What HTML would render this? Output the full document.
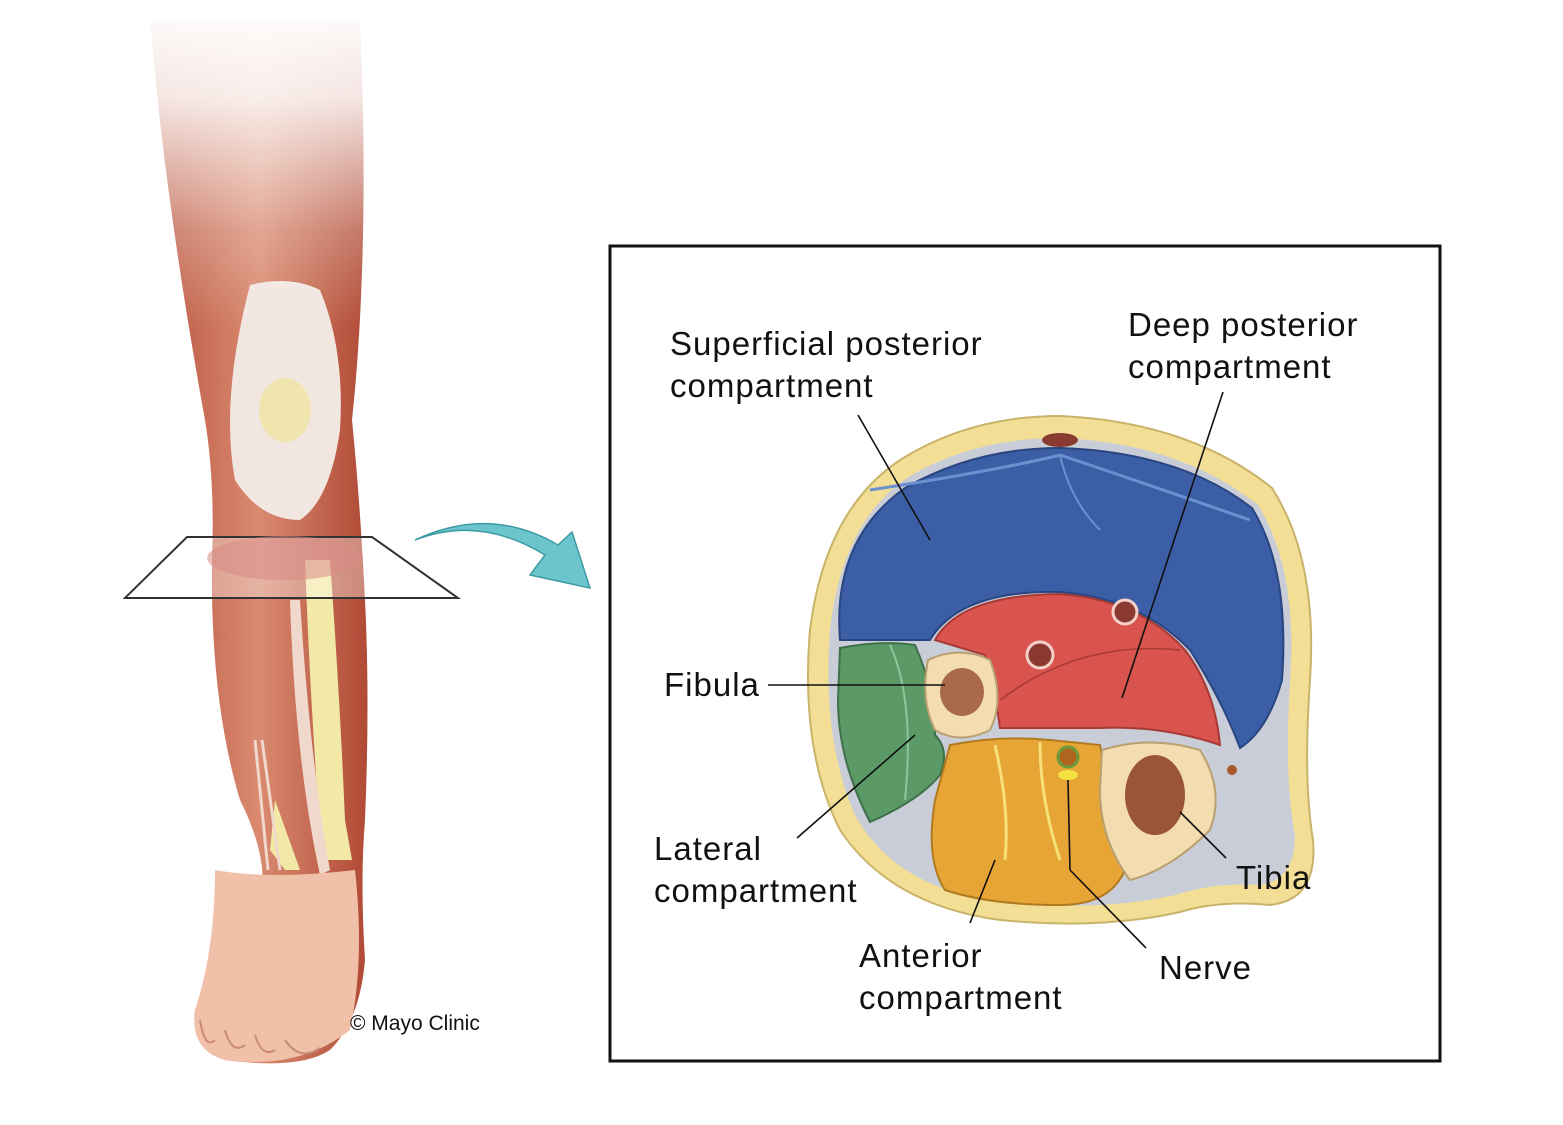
<!DOCTYPE html>
<html><head><meta charset="utf-8"><style>
html,body{margin:0;padding:0;background:#fff;}
svg{display:block;}
text{font-family:"Liberation Sans",Arial,sans-serif;fill:#111;}
</style></head><body>
<svg width="1563" height="1125" viewBox="0 0 1563 1125" xmlns="http://www.w3.org/2000/svg">
<defs>
<linearGradient id="fade" x1="0" y1="0" x2="0" y2="1">
<stop offset="0" stop-color="#fff" stop-opacity="1"/>
<stop offset="0.3" stop-color="#fff" stop-opacity="0.85"/>
<stop offset="0.7" stop-color="#fff" stop-opacity="0.25"/>
<stop offset="1" stop-color="#fff" stop-opacity="0"/>
</linearGradient>
<linearGradient id="mus" x1="0" y1="0" x2="1" y2="0">
<stop offset="0" stop-color="#b8543e"/><stop offset="0.5" stop-color="#d98a70"/><stop offset="1" stop-color="#b04a35"/>
</linearGradient>
</defs>

<!-- LEG -->
<g>
<path d="M150,20 Q165,200 205,420 Q215,480 212,560 Q210,700 240,800 Q270,860 260,900 Q220,960 195,1010 Q190,1050 225,1060 Q300,1070 330,1050 Q360,1020 365,960 Q360,880 365,820 Q370,700 365,600 Q360,500 352,420 Q370,250 360,20 Z" fill="url(#mus)"/>
<path d="M250,285 Q290,275 320,290 Q345,350 340,430 Q330,500 300,520 Q260,520 235,480 Q220,400 250,285 Z" fill="#f1e6e0"/>
<ellipse cx="285" cy="410" rx="26" ry="32" fill="#f1e49a" opacity="0.7"/>
<path d="M305,560 L330,560 Q340,700 345,820 L352,860 L322,860 Q310,700 305,560 Z" fill="#f3e9a6"/>
<path d="M275,800 L300,870 L285,870 L270,850 Z" fill="#f3e9a6"/>
<path d="M300,600 Q310,760 330,870 L320,875 Q295,760 290,600 Z" fill="#f0d8cc"/>
<path d="M255,740 L268,870 M262,740 L280,870" stroke="#f0d8cc" stroke-width="3" fill="none"/>
<path d="M215,870 Q270,880 355,870 Q365,960 350,1030 Q300,1070 225,1060 Q190,1050 195,1010 Q215,950 215,870 Z" fill="#f1c0a8"/>
<path d="M200,1020 Q205,1050 215,1040 M225,1030 Q232,1055 245,1045 M255,1035 Q262,1058 275,1050 M285,1040 Q300,1062 320,1048" stroke="#c98a78" stroke-width="2" fill="none"/>
<rect x="130" y="0" width="260" height="330" fill="url(#fade)"/>
</g>
<!-- plane -->
<path d="M187,537 L372,537 L458,598 L125,598 Z" fill="#ffffff" fill-opacity="0.35" stroke="#333" stroke-width="2"/>
<ellipse cx="285" cy="558" rx="78" ry="22" fill="#d88a85" opacity="0.55"/>
<!-- arrow -->
<path d="M415,540 Q480,515 545,555 L530,575 L590,588 L572,532 L558,545 Q490,505 415,540 Z" fill="#6cc5cc" stroke="#3c9aa3" stroke-width="1.5"/>
<text x="350" y="1030" font-size="21">© Mayo Clinic</text>

<!-- BOX -->
<rect x="610" y="246" width="830" height="815" fill="#fff" stroke="#111" stroke-width="3"/>

<!-- cross-section -->
<path d="M1060,416 Q1190,422 1272,488 Q1318,560 1310,680 Q1303,780 1313,840 Q1318,900 1270,905 Q1220,900 1180,912 Q1100,930 1000,920 Q890,905 840,830 Q800,750 810,630 Q825,510 900,460 Q970,416 1060,416 Z" fill="#f2df95" stroke="#c9b36a" stroke-width="2"/>
<path d="M1060,438 Q1180,443 1258,505 Q1298,570 1290,680 Q1284,780 1295,835 Q1295,880 1260,885 Q1215,882 1175,895 Q1100,912 1000,902 Q895,888 855,815 Q822,740 830,630 Q842,520 910,476 Q975,438 1060,438 Z" fill="#c9cdd8"/>
<!-- blue -->
<path d="M1060,448 Q1180,452 1252,508 Q1290,570 1282,680 Q1268,730 1240,748 Q1222,700 1190,650 Q1140,598 1060,592 Q960,590 930,640 L840,640 Q832,540 905,488 Q975,448 1060,448 Z" fill="#3b5ea6" stroke="#2a4580" stroke-width="2"/>
<path d="M870,490 Q1000,470 1060,455 Q1120,475 1250,520" fill="none" stroke="#6c8fd0" stroke-width="3"/>
<path d="M1060,455 Q1070,500 1100,530" fill="none" stroke="#6c8fd0" stroke-width="2"/>
<!-- red -->
<path d="M935,640 Q960,595 1060,594 Q1140,600 1185,650 Q1215,690 1220,745 Q1160,725 1100,728 L1000,728 Q995,690 985,655 Z" fill="#d9544e" stroke="#a83a35" stroke-width="2"/>
<path d="M1000,700 Q1080,640 1180,650" fill="none" stroke="#a83a35" stroke-width="1.5"/>
<circle cx="1040" cy="655" r="13" fill="#8a3a30" stroke="#f4d0c8" stroke-width="3"/>
<circle cx="1125" cy="612" r="12" fill="#8a3a30" stroke="#f4d0c8" stroke-width="3"/>
<!-- green -->
<path d="M840,648 Q880,640 915,645 Q935,690 935,735 Q950,750 940,775 Q920,800 870,822 Q838,760 838,700 Z" fill="#5b9a67" stroke="#3f7049" stroke-width="2"/>
<path d="M890,645 Q915,700 905,800" fill="none" stroke="#8ec49a" stroke-width="2"/>
<!-- fibula -->
<path d="M928,660 Q960,645 990,660 Q1005,700 990,730 Q960,745 935,730 Q920,700 928,660 Z" fill="#f2dcb0" stroke="#b8a070" stroke-width="2"/>
<ellipse cx="962" cy="692" rx="22" ry="24" fill="#a86a4a"/>
<!-- anterior -->
<path d="M950,745 Q1000,735 1050,740 L1100,745 Q1110,800 1125,870 Q1110,905 1060,905 Q990,905 945,890 Q925,860 935,800 Z" fill="#e6a534" stroke="#b07a20" stroke-width="2"/>
<path d="M995,745 Q1010,810 1005,860 M1040,742 Q1040,800 1060,860" fill="none" stroke="#f6e07a" stroke-width="3"/>
<circle cx="1068" cy="757" r="10" fill="#b0661e" stroke="#6a9a3a" stroke-width="3"/>
<ellipse cx="1068" cy="775" rx="10" ry="5" fill="#f4e040"/>
<!-- tibia -->
<path d="M1102,750 Q1150,735 1200,750 Q1225,790 1210,830 Q1170,870 1130,880 Q1100,840 1100,790 Z" fill="#f2dcb0" stroke="#b8a070" stroke-width="2"/>
<ellipse cx="1155" cy="795" rx="30" ry="40" fill="#9a5538"/>
<ellipse cx="1060" cy="440" rx="18" ry="7" fill="#8a3a30"/>
<circle cx="1232" cy="770" r="5" fill="#a85a2a"/>

<!-- leader lines -->
<g stroke="#111" stroke-width="1.6" fill="none">
<line x1="858" y1="415" x2="930" y2="540"/>
<line x1="1223" y1="392" x2="1122" y2="698"/>
<line x1="768" y1="685" x2="945" y2="685"/>
<line x1="797" y1="838" x2="915" y2="735"/>
<line x1="970" y1="923" x2="995" y2="860"/>
<line x1="1146" y1="948" x2="1070" y2="870"/>
<line x1="1070" y1="870" x2="1068" y2="780"/>
<line x1="1226" y1="858" x2="1180" y2="812"/>
</g>

<!-- labels -->
<g font-size="33" letter-spacing="1">
<text x="670" y="355">Superficial posterior</text>
<text x="670" y="397">compartment</text>
<text x="1128" y="336">Deep posterior</text>
<text x="1128" y="378">compartment</text>
<text x="664" y="696">Fibula</text>
<text x="654" y="860">Lateral</text>
<text x="654" y="902">compartment</text>
<text x="859" y="967">Anterior</text>
<text x="859" y="1009">compartment</text>
<text x="1159" y="979">Nerve</text>
<text x="1236" y="889">Tibia</text>
</g>
</svg>
</body></html>
